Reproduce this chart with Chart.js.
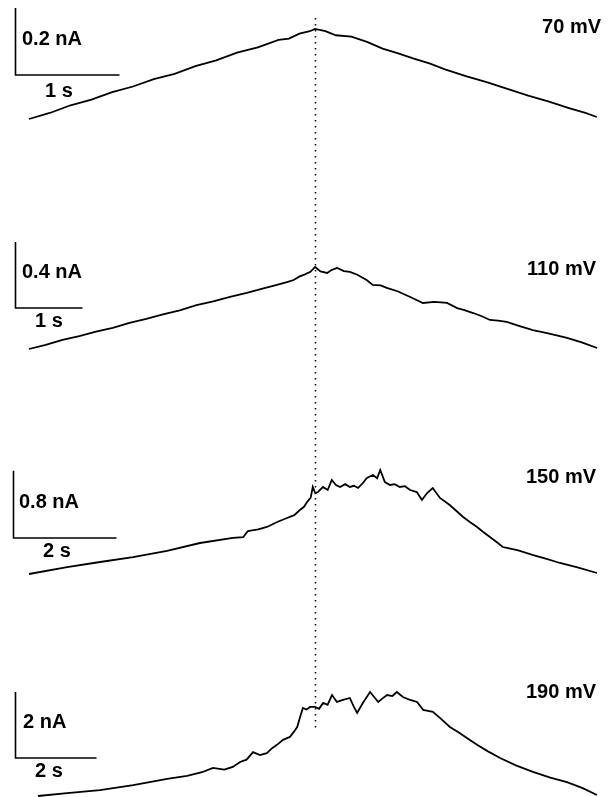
<!DOCTYPE html>
<html>
<head>
<meta charset="utf-8">
<script src="https://cdn.jsdelivr.net/npm/chart.js@4"></script>
<style>
  html, body { margin: 0; padding: 0; background: #fff; }
  #wrap { width: 614px; height: 797px; }
</style>
</head>
<body>
<div id="wrap"><canvas id="traces" width="614" height="797"></canvas></div>
<script>
// data: time (s) and current (nA) read from the four recordings
const voltages = ['70 mV', '110 mV', '150 mV', '190 mV'];
const barSeconds = [1, 1, 2, 2];
const barNanoAmps = [0.2, 0.4, 0.8, 2];
const markerTime = 2.75; // dotted line, at the 70 mV peak

const t70 = [0, 0.2, 0.4, 0.6, 0.8, 1.0, 1.2, 1.4, 1.6, 1.8, 2.0, 2.2, 2.4, 2.5, 2.6, 2.7, 2.75, 2.85, 2.95, 3.1, 3.25, 3.4, 3.55, 3.7, 3.85, 4.0, 4.2, 4.4, 4.6, 4.8, 5.0, 5.2, 5.35, 5.46];
const i70 = [0, 0.018, 0.041, 0.058, 0.080, 0.097, 0.119, 0.135, 0.158, 0.175, 0.198, 0.214, 0.236, 0.240, 0.255, 0.262, 0.269, 0.262, 0.250, 0.246, 0.230, 0.210, 0.196, 0.180, 0.166, 0.148, 0.128, 0.110, 0.090, 0.070, 0.052, 0.032, 0.018, 0.006];

const t110 = [0, 0.25, 0.5, 0.75, 1.0, 1.25, 1.5, 1.75, 2.0, 2.25, 2.5, 2.75, 3.0, 3.25, 3.5, 3.7, 3.85, 3.95, 4.04, 4.12, 4.2, 4.27, 4.35, 4.45, 4.52, 4.6, 4.7, 4.79, 4.9, 5.04, 5.13, 5.25, 5.34, 5.5, 5.69, 5.88, 6.05, 6.24, 6.39, 6.5, 6.63, 6.75, 6.88, 7.0, 7.13, 7.3, 7.52, 7.75, 8.03, 8.25, 8.48];
const i110 = [0, 0.025, 0.055, 0.078, 0.105, 0.128, 0.158, 0.182, 0.210, 0.234, 0.266, 0.288, 0.316, 0.340, 0.368, 0.388, 0.405, 0.418, 0.440, 0.452, 0.468, 0.497, 0.470, 0.461, 0.480, 0.491, 0.472, 0.467, 0.450, 0.418, 0.388, 0.385, 0.370, 0.350, 0.315, 0.279, 0.285, 0.279, 0.248, 0.236, 0.218, 0.200, 0.176, 0.172, 0.164, 0.142, 0.115, 0.095, 0.067, 0.040, 0.006];

const t150 = [0, 0.74, 1.38, 2.02, 2.68, 3.32, 3.96, 4.16, 4.25, 4.45, 4.62, 4.82, 5.01, 5.15, 5.26, 5.34, 5.40, 5.47, 5.51, 5.56, 5.61, 5.71, 5.80, 5.88, 5.96, 6.04, 6.14, 6.23, 6.31, 6.39, 6.48, 6.56, 6.68, 6.76, 6.82, 6.91, 7.01, 7.10, 7.20, 7.30, 7.40, 7.53, 7.63, 7.73, 7.84, 7.98, 8.17, 8.30, 8.43, 8.56, 8.70, 8.82, 8.95, 9.08, 9.20, 9.28, 9.50, 9.79, 10.05, 10.31, 10.65, 11.03];
const i150 = [0, 0.083, 0.143, 0.202, 0.274, 0.369, 0.429, 0.440, 0.512, 0.530, 0.560, 0.619, 0.667, 0.700, 0.762, 0.800, 0.857, 0.910, 1.036, 0.960, 0.976, 1.036, 1.000, 1.119, 1.060, 1.036, 1.070, 1.036, 1.050, 1.024, 1.080, 1.143, 1.179, 1.140, 1.238, 1.095, 1.060, 1.070, 1.036, 1.045, 1.000, 0.976, 0.881, 0.964, 1.024, 0.905, 0.821, 0.750, 0.679, 0.620, 0.560, 0.500, 0.440, 0.380, 0.321, 0.310, 0.280, 0.226, 0.180, 0.131, 0.080, 0.012];

const t190 = [0, 0.72, 1.53, 2.35, 3.19, 3.68, 4.05, 4.32, 4.60, 4.81, 4.99, 5.15, 5.31, 5.48, 5.65, 5.78, 5.90, 6.05, 6.22, 6.32, 6.40, 6.47, 6.54, 6.63, 6.72, 6.84, 6.94, 7.04, 7.15, 7.26, 7.38, 7.53, 7.70, 7.80, 7.88, 8.02, 8.20, 8.30, 8.40, 8.50, 8.62, 8.75, 8.86, 9.01, 9.19, 9.36, 9.51, 9.75, 9.93, 10.17, 10.40, 10.59, 10.84, 11.10, 11.41, 11.80, 12.22, 12.65, 13.06, 13.45, 13.80];
const i190 = [0, 0.09, 0.18, 0.33, 0.52, 0.61, 0.72, 0.85, 0.80, 0.88, 1.03, 1.10, 1.33, 1.24, 1.30, 1.45, 1.55, 1.70, 1.79, 1.95, 2.09, 2.39, 2.67, 2.62, 2.70, 2.70, 2.64, 2.82, 2.76, 3.06, 2.85, 2.91, 2.97, 2.70, 2.52, 2.82, 3.15, 3.00, 2.85, 2.95, 3.06, 3.03, 3.15, 3.00, 2.91, 2.85, 2.61, 2.55, 2.36, 2.09, 1.92, 1.76, 1.55, 1.36, 1.15, 0.93, 0.73, 0.56, 0.42, 0.24, 0.03];

const times = [t70, t110, t150, t190];
const currents = [i70, i110, i150, i190];

// page layout of each panel (pixels): where t=0 / I=0 sits and how many px per unit
const W = 614, H = 797;
const panels = [
  { x0: 29, pxS: 104,  y0: 119, pxNA: 335, barX: 15.5, barY: 75,  nA: [22, 45],  s: [45, 97],  mv: [601, 33] },
  { x0: 29, pxS: 67,   y0: 349, pxNA: 165, barX: 15.5, barY: 308, nA: [22, 278], s: [35, 327], mv: [596, 275] },
  { x0: 29, pxS: 51.5, y0: 574, pxNA: 84,  barX: 13.5, barY: 538, nA: [19, 508], s: [43, 557], mv: [596, 483] },
  { x0: 38, pxS: 40.5, y0: 796, pxNA: 33,  barX: 15.5, barY: 758, nA: [23, 728], s: [35, 777], mv: [596, 698] }
];

const scales = {};
const datasets = [];
panels.forEach((p, k) => {
  scales['x' + k] = { type: 'linear', display: false, min: -p.x0 / p.pxS, max: (W - p.x0) / p.pxS };
  scales['y' + k] = { type: 'linear', display: false, min: -(H - p.y0) / p.pxNA, max: p.y0 / p.pxNA };
  datasets.push({
    label: voltages[k],
    data: times[k].map((t, j) => ({ x: t, y: currents[k][j] })),
    xAxisID: 'x' + k,
    yAxisID: 'y' + k,
    borderColor: '#000',
    borderWidth: 1.8,
    pointRadius: 0,
    tension: 0,
    clip: false
  });
});

const extras = {
  id: 'extras',
  afterDatasetsDraw(chart) {
    const ctx = chart.ctx;
    ctx.save();
    // dotted marker through all traces
    const mx = Math.round(chart.scales.x0.getPixelForValue(markerTime)) + 0.5;
    ctx.strokeStyle = '#111';
    ctx.lineWidth = 1.6;
    ctx.setLineDash([1.6, 4.4]);
    ctx.beginPath();
    ctx.moveTo(mx, 18);
    ctx.lineTo(mx, 730);
    ctx.stroke();
    ctx.setLineDash([]);

    panels.forEach((p, k) => {
      const xs = chart.scales['x' + k], ys = chart.scales['y' + k];
      const lenX = xs.getPixelForValue(barSeconds[k]) - xs.getPixelForValue(0);
      const lenY = ys.getPixelForValue(0) - ys.getPixelForValue(barNanoAmps[k]);
      ctx.strokeStyle = '#000';
      ctx.lineWidth = 1.6;
      ctx.beginPath();
      ctx.moveTo(p.barX, p.barY - lenY);
      ctx.lineTo(p.barX, p.barY);
      ctx.lineTo(p.barX + lenX, p.barY);
      ctx.stroke();

      ctx.fillStyle = '#000';
      ctx.font = 'bold 20px "Liberation Sans", Arial, sans-serif';
      ctx.textBaseline = 'alphabetic';
      ctx.textAlign = 'left';
      ctx.fillText(barNanoAmps[k] + ' nA', p.nA[0], p.nA[1]);
      ctx.fillText(barSeconds[k] + ' s', p.s[0], p.s[1]);
      ctx.textAlign = 'right';
      ctx.fillText(voltages[k], p.mv[0], p.mv[1]);
    });
    ctx.restore();
  }
};

new Chart(document.getElementById('traces'), {
  type: 'line',
  data: { datasets },
  options: {
    responsive: false,
    animation: false,
    layout: { padding: 0 },
    plugins: { legend: { display: false }, tooltip: { enabled: false } },
    scales
  },
  plugins: [extras]
});
</script>
</body>
</html>
